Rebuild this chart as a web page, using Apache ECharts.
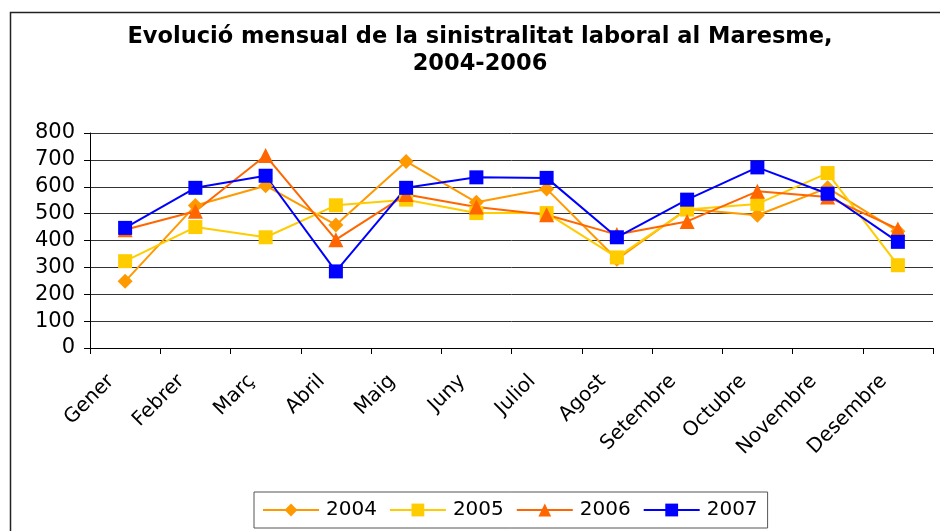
<!DOCTYPE html>
<html>
<head>
<meta charset="utf-8">
<script src="https://cdn.jsdelivr.net/npm/echarts@6/dist/echarts.min.js"></script>
<style>html,body{margin:0;padding:0;background:#fff}#c{width:940px;height:531px}</style>
</head>
<body>
<div id="c"></div>
<script>
const months = ['Gener','Febrer','Març','Abril','Maig','Juny','Juliol','Agost','Setembre','Octubre','Novembre','Desembre'];
const s2004 = [248, 530, 604, 458, 694, 542, 592, 330, 517, 494, 596, 434];
const s2005 = [323, 450, 412, 531, 552, 502, 502, 337, 515, 536, 651, 308];
const s2006 = [440, 509, 716, 403, 571, 525, 496, 422, 471, 583, 562, 443];
const s2007 = [447, 596, 641, 285, 596, 635, 633, 412, 552, 672, 574, 395];
const yTicks = {min: 0, max: 800, interval: 100};
const titleText = 'Evolució mensual de la sinistralitat laboral al Maresme,\n2004-2006';

const FONT = 'DejaVu Sans';
const chart = echarts.init(document.getElementById('c'), null, {renderer: 'canvas'});
function mk(name, data, color, symbol, size) {
  return {
    name, type: 'line', data, symbol, symbolSize: size,
    showAllSymbol: true,
    lineStyle: {color, width: 2},
    itemStyle: {color, borderWidth: 0},
    emphasis: {disabled: true}
  };
}
chart.setOption({
  animation: false,
  backgroundColor: '#fff',
  graphic: [{
    type: 'rect', left: 8, top: 10, silent: true,
    shape: {x: 0, y: 0, width: 950, height: 560},
    style: {fill: 'none', stroke: '#222', lineWidth: 1.5}
  }],
  title: {
    text: titleText,
    left: 475, top: 19, textAlign: 'center',
    textStyle: {fontFamily: FONT, fontWeight: 'bold', fontSize: 22.5, lineHeight: 27, color: '#000'}
  },
  grid: {left: 90, right: 7, top: 133, bottom: 183, containLabel: false},
  legend: {
    data: ['2004','2005','2006','2007'],
    left: 254, top: 492,
    padding: [8, 10, 8, 8],
    itemWidth: 56, itemHeight: 16, itemGap: 12,
    borderColor: '#555', borderWidth: 1,
    textStyle: {fontFamily: FONT, fontSize: 20, color: '#000', padding: [0, 0, 0, 2]}
  },
  xAxis: {
    type: 'category', data: months, boundaryGap: true,
    axisLine: {lineStyle: {color: '#000', width: 1}},
    axisTick: {show: true, length: 6, lineStyle: {color: '#000'}},
    axisLabel: {rotate: 45, interval: 0, margin: 16, padding: [0, 20, 0, 0], fontFamily: FONT, fontSize: 20, color: '#000'}
  },
  yAxis: {
    type: 'value', min: yTicks.min, max: yTicks.max, interval: yTicks.interval,
    axisLine: {show: true, lineStyle: {color: '#000', width: 1}},
    axisTick: {show: true, length: 6, lineStyle: {color: '#000'}},
    axisLabel: {fontFamily: FONT, fontSize: 21, color: '#000', margin: 15},
    splitLine: {show: true, lineStyle: {color: '#333', width: 1}}
  },
  series: [
    mk('2004', s2004, '#FF9900', 'diamond', 15),
    mk('2005', s2005, '#FFCC00', 'rect', 14),
    mk('2006', s2006, '#FF6600', 'triangle', 15),
    mk('2007', s2007, '#0000FF', 'rect', 14)
  ]
});
</script>
</body>
</html>
